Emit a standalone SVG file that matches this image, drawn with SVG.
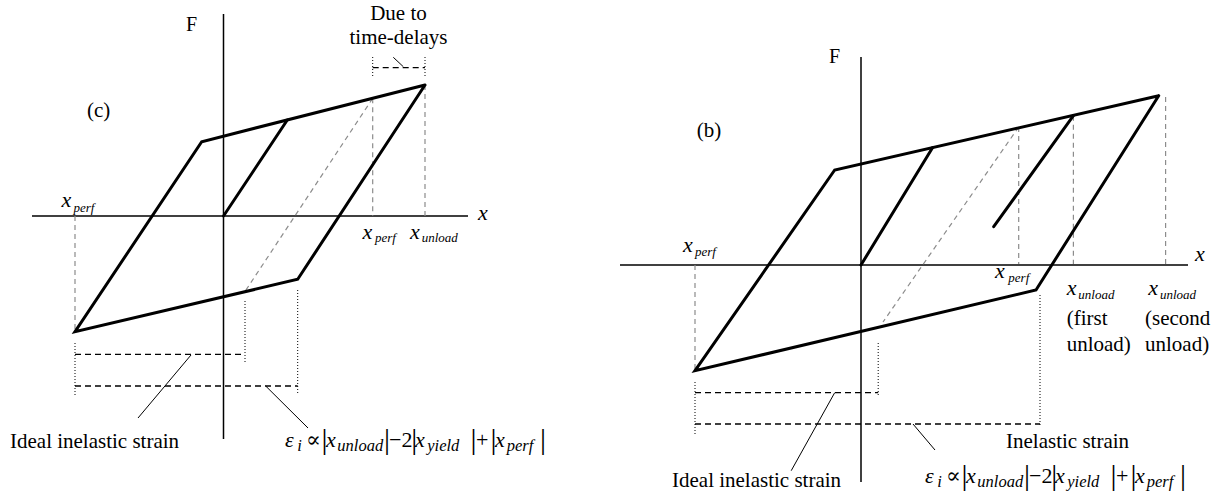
<svg xmlns="http://www.w3.org/2000/svg" width="1219" height="496" viewBox="0 0 1219 496" font-family="'Liberation Serif', 'Times New Roman', 'DejaVu Serif', serif">
<style>
.ax{stroke:#000;stroke-width:1.5;fill:none}
.lp{stroke:#000;stroke-width:3;fill:none;stroke-linejoin:miter;stroke-linecap:round}
.gd{stroke:#8c8c8c;stroke-width:1.2;fill:none;stroke-dasharray:5 4}
.bd{stroke:#000;stroke-width:1.3;fill:none;stroke-dasharray:6 4}
.dt{stroke:#000;stroke-width:1;fill:none;stroke-dasharray:1 2}
.ld{stroke:#000;stroke-width:1;fill:none}
text{font-family:"Liberation Serif","Times New Roman","DejaVu Serif",serif;fill:#000}
.t{font-size:21px}
.v{font-size:22px;font-style:italic}
.s{font-size:13px;font-style:italic}
.fm{font-size:22px;font-style:italic}
.fn{font-size:22px;font-style:normal}
.fs{font-size:16.5px;font-style:italic}
.bar{font-size:30px;font-style:normal}
</style>
<rect width="1219" height="496" fill="#fff"/>

<!-- Panel (c) -->
<g id="panel-c">
  <g id="c-axes">
    <line class="ax" x1="223.5" y1="14" x2="223.5" y2="439"/>
    <line class="ax" x1="32" y1="216" x2="468" y2="216"/>
  </g>
  <g id="c-guides">
    <line class="gd" x1="372.7" y1="98.3" x2="245" y2="291.5"/>
    <line class="gd" x1="372.7" y1="98.3" x2="372.7" y2="216"/>
    <line class="gd" x1="425" y1="85" x2="425" y2="216"/>
    <line class="gd" x1="75" y1="216" x2="75" y2="331"/>
    <line class="dt" x1="372.7" y1="57" x2="372.7" y2="78"/>
    <line class="dt" x1="425" y1="57" x2="425" y2="78"/>
    <line class="bd" x1="372.7" y1="67.7" x2="425" y2="67.7"/>
    <line class="ld" x1="393.3" y1="57.3" x2="403.3" y2="66.7"/>
    <line class="dt" x1="245" y1="301" x2="245" y2="363"/>
    <line class="dt" x1="297.7" y1="290" x2="297.7" y2="395"/>
    <line class="dt" x1="75" y1="343" x2="75" y2="397"/>
    <line class="bd" x1="75" y1="354.3" x2="245" y2="354.3"/>
    <line class="bd" x1="75" y1="386" x2="297.7" y2="386"/>
    <line class="ld" x1="191" y1="355" x2="138" y2="418"/>
    <line class="ld" x1="265.7" y1="386" x2="308" y2="428"/>
  </g>
  <g id="c-loop">
    <polyline class="lp" points="425,85 201.7,141.7 75,331.7 297.7,279.3 425,85"/>
    <line class="lp" x1="223.5" y1="216" x2="287.3" y2="120"/>
  </g>
  <g id="c-labels">
    <text class="t" x="186" y="30.5" style="font-size:20px">F</text>
    <text class="t" x="87" y="116.5">(c)</text>
    <text class="t" x="398.5" y="20" text-anchor="middle">Due to</text>
    <text class="t" x="398.5" y="44" text-anchor="middle">time-delays</text>
    <text class="v" x="478" y="220">x</text>
    <text class="v" x="61.5" y="206.5">x<tspan class="s" x="73.5" y="211.5">perf</tspan></text>
    <text class="v" x="362.5" y="238.5">x<tspan class="s" x="375" y="242">perf</tspan></text>
    <text class="v" x="410" y="238.5">x<tspan class="s" x="421.7" y="242">unload</tspan></text>
    <text class="t" x="10" y="448">Ideal inelastic strain</text>
  </g>
  <g id="c-formula" transform="translate(285,447)">
    <text class="fm" x="0" y="0">ε<tspan class="fs" x="12.3" y="4">i</tspan><tspan class="fn" x="21" y="0">∝</tspan><tspan class="bar" x="36.5" y="2">|</tspan><tspan class="fm" x="41" y="0">x</tspan><tspan class="fs" x="52.3" y="4">unload</tspan><tspan class="bar" x="98.9" y="2">|</tspan><tspan class="fn" x="104" y="0">−</tspan><tspan class="fn" x="116.5" y="0">2</tspan><tspan class="bar" x="126.2" y="2">|</tspan><tspan class="fm" x="130" y="0">x</tspan><tspan class="fs" x="142.3" y="4">yield</tspan><tspan class="bar" x="185.5" y="2">|</tspan><tspan class="fn" x="191" y="0">+</tspan><tspan class="bar" x="205.5" y="2">|</tspan><tspan class="fm" x="210" y="0">x</tspan><tspan class="fs" x="221.7" y="4">perf</tspan><tspan class="bar" x="254.9" y="2">|</tspan></text>
  </g>
</g>

<!-- Panel (b) -->
<g id="panel-b">
  <g id="b-axes">
    <line class="ax" x1="861" y1="57" x2="861" y2="482"/>
    <line class="ax" x1="620" y1="265" x2="1188" y2="265"/>
  </g>
  <g id="b-guides">
    <line class="gd" x1="1018.7" y1="127" x2="883" y2="322"/>
    <line class="gd" x1="1018.7" y1="127" x2="1018.7" y2="264"/>
    <line class="gd" x1="1073.4" y1="115.7" x2="1073.4" y2="264"/>
    <line class="gd" x1="1165.6" y1="97" x2="1165.6" y2="264"/>
    <line class="gd" x1="695" y1="265" x2="695" y2="370"/>
    <line class="dt" x1="878.2" y1="343" x2="878.2" y2="396"/>
    <line class="dt" x1="1040" y1="295" x2="1040" y2="425"/>
    <line class="dt" x1="695" y1="382" x2="695" y2="435"/>
    <line class="bd" x1="695" y1="392.7" x2="878.2" y2="392.7"/>
    <line class="bd" x1="695" y1="424" x2="1040" y2="424"/>
    <line class="ld" x1="834.7" y1="392.7" x2="791.2" y2="470.7"/>
    <line class="ld" x1="913" y1="424" x2="935" y2="450"/>
  </g>
  <g id="b-loop">
    <polyline class="lp" points="1158.7,95.7 834.7,170 695,370.7 1036,290 1158.7,95.7"/>
    <line class="lp" x1="861" y1="265" x2="932.5" y2="147.7"/>
    <line class="lp" x1="993.7" y1="226.7" x2="1073.4" y2="115.7"/>
  </g>
  <g id="b-labels">
    <text class="t" x="829" y="63" style="font-size:20px">F</text>
    <text class="t" x="696.7" y="137">(b)</text>
    <text class="v" x="1195" y="261">x</text>
    <text class="v" x="683" y="252">x<tspan class="s" x="695" y="256">perf</tspan></text>
    <text class="v" x="995" y="278.3">x<tspan class="s" x="1008.3" y="282">perf</tspan></text>
    <text class="v" x="1066.7" y="295">x<tspan class="s" x="1078.3" y="299">unload</tspan></text>
    <text class="v" x="1148.3" y="295">x<tspan class="s" x="1160" y="299">unload</tspan></text>
    <text class="t" x="1066.7" y="325">(first</text>
    <text class="t" x="1066.7" y="351">unload)</text>
    <text class="t" x="1145" y="325">(second</text>
    <text class="t" x="1145" y="351">unload)</text>
    <text class="t" x="1006" y="448">Inelastic strain</text>
    <text class="t" x="672" y="487">Ideal inelastic strain</text>
  </g>
  <g id="b-formula" transform="translate(925,483)">
    <text class="fm" x="0" y="0">ε<tspan class="fs" x="12.3" y="4">i</tspan><tspan class="fn" x="21" y="0">∝</tspan><tspan class="bar" x="36.5" y="2">|</tspan><tspan class="fm" x="41" y="0">x</tspan><tspan class="fs" x="52.3" y="4">unload</tspan><tspan class="bar" x="98.9" y="2">|</tspan><tspan class="fn" x="104" y="0">−</tspan><tspan class="fn" x="116.5" y="0">2</tspan><tspan class="bar" x="126.2" y="2">|</tspan><tspan class="fm" x="130" y="0">x</tspan><tspan class="fs" x="142.3" y="4">yield</tspan><tspan class="bar" x="185.5" y="2">|</tspan><tspan class="fn" x="191" y="0">+</tspan><tspan class="bar" x="205.5" y="2">|</tspan><tspan class="fm" x="210" y="0">x</tspan><tspan class="fs" x="221.7" y="4">perf</tspan><tspan class="bar" x="254.9" y="2">|</tspan></text>
  </g>
</g>
</svg>
